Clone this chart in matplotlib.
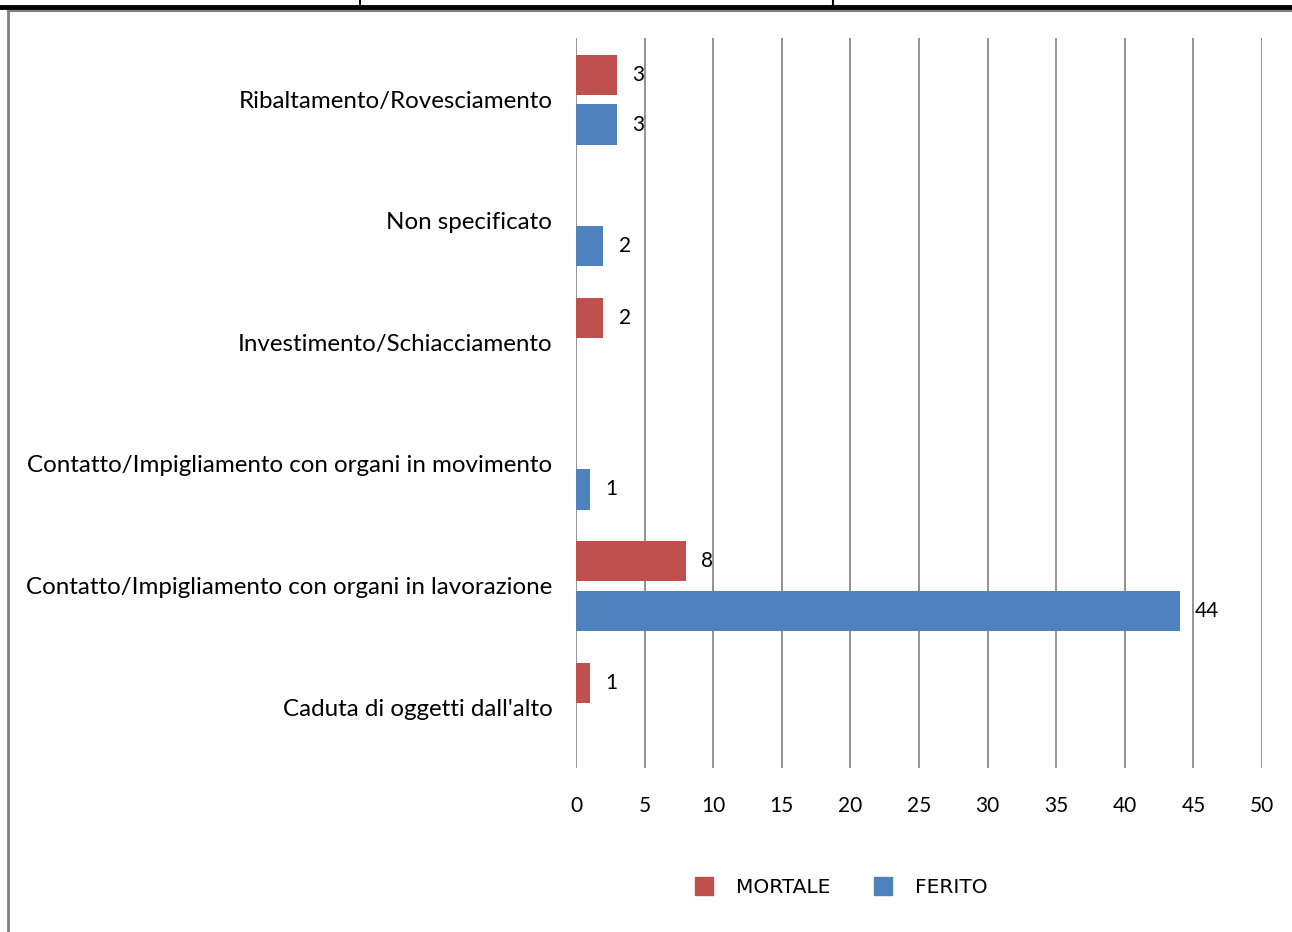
import numpy as np
import matplotlib
matplotlib.use('Agg')
import matplotlib.pyplot as plt
from matplotlib.lines import Line2D

# data (bottom to top as in the chart)
categories = ["Caduta di oggetti dall'alto",
              'Contatto/Impigliamento con organi in lavorazione',
              'Contatto/Impigliamento con organi in movimento',
              'Investimento/Schiacciamento',
              'Non specificato',
              'Ribaltamento/Rovesciamento']
mortale = [1, 8, 0, 2, 0, 3]
ferito = [0, 44, 1, 0, 2, 3]
xticks = [0, 5, 10, 15, 20, 25, 30, 35, 40, 45, 50]

red = '#C0504D'
blue = '#4F81BD'
plt.rcParams['font.family'] = ['Lato', 'DejaVu Sans']

fig = plt.figure(figsize=(12.92, 9.32), dpi=100)
ax = fig.add_axes([0.4458, 0.176, 0.531, 0.783])

y = np.arange(len(categories))
h = 0.33
for i in y:
    if mortale[i]:
        ax.barh(i + 0.2, mortale[i], height=h, color=red, zorder=3)
        ax.text(mortale[i] + 1.1, i + 0.2, str(mortale[i]), va='center', ha='left', fontsize=15)
    if ferito[i]:
        ax.barh(i - 0.21, ferito[i], height=h, color=blue, zorder=3)
        ax.text(ferito[i] + 1.1, i - 0.21, str(ferito[i]), va='center', ha='left', fontsize=15)

ax.set_xlim(0, 50)
ax.set_ylim(-0.5, len(categories) - 0.5)
ax.set_xticks(xticks)
ax.set_xticklabels([str(v) for v in xticks], fontsize=15)
ax.set_yticks(y)
ax.set_yticklabels(categories, fontsize=17.4)
ax.tick_params(axis='x', length=0, pad=20)
ax.tick_params(axis='y', length=0, pad=17)
for s in ax.spines.values():
    s.set_visible(False)
ax.grid(axis='x', color='#808080', linewidth=1.2, zorder=0)

handles = [Line2D([], [], marker='s', linestyle='none', markersize=13, color=red),
           Line2D([], [], marker='s', linestyle='none', markersize=13, color=blue)]
fig.legend(handles, ['MORTALE', 'FERITO'], loc='center', bbox_to_anchor=(0.647, 0.048),
           ncol=2, frameon=False, columnspacing=1.6, handletextpad=0.6,
           prop={'family': 'DejaVu Sans', 'size': 14.5})

# page/table borders around the chart
fig.add_artist(Line2D([0, 1], [1 - 7 / 932, 1 - 7 / 932], color='black', linewidth=3.5))
fig.add_artist(Line2D([8 / 1292, 1], [1 - 11 / 932, 1 - 11 / 932], color='#808080', linewidth=1.5))
fig.add_artist(Line2D([8 / 1292, 8 / 1292], [0, 1 - 11 / 932], color='#808080', linewidth=2))
for xp in [360, 833]:
    fig.add_artist(Line2D([xp / 1292, xp / 1292], [1 - 7 / 932, 1], color='black', linewidth=1.5))

fig.savefig('out.png', dpi=100)
